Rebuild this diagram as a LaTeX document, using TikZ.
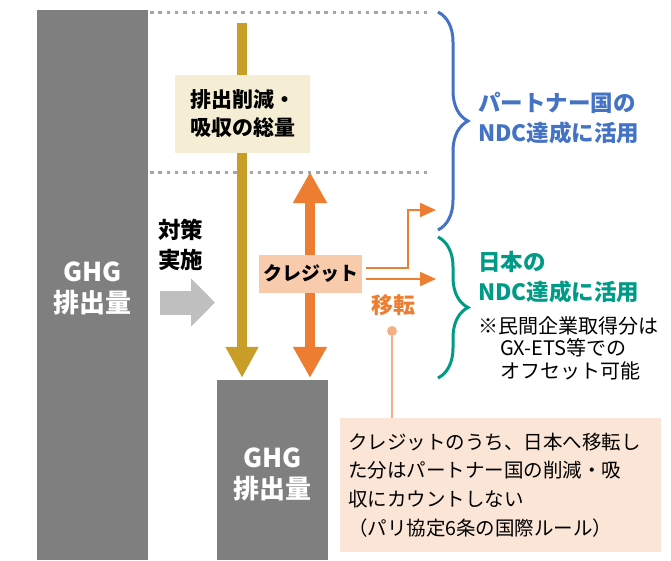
\documentclass[tikz,border=0pt]{standalone}
\usepackage{fontspec}
\setmainfont{Noto Sans CJK JP}
\usepackage{tikz}
\usetikzlibrary{arrows.meta}
\usetikzlibrary{positioning, shapes.arrows, decorations.pathreplacing}
\definecolor{barGray}{RGB}{127,127,127}
\definecolor{guideGray}{RGB}{166,166,166}
\definecolor{implGray}{RGB}{191,191,191}
\definecolor{totalGold}{RGB}{200,158,40}
\definecolor{totalFill}{RGB}{246,238,212}
\definecolor{creditOrange}{RGB}{237,125,49}
\definecolor{creditFill}{RGB}{248,203,173}
\definecolor{noteFill}{RGB}{251,229,214}
\definecolor{pinOrange}{RGB}{244,177,131}
\definecolor{partnerBlue}{RGB}{68,114,196}
\definecolor{japanGreen}{RGB}{0,155,135}
\tikzset{
emission bar/.style = { rectangle, draw = none, fill = barGray, inner sep = 0pt, minimum width = 111pt },
bar text/.style = { text = white, font = \bfseries\fontsize{26}{31}\selectfont, align = center },
guide/.style = { guideGray, line width = 3pt, dash pattern = on 3.5pt off 4.8pt },
total arrow/.style = { totalGold, line width = 10pt, -{Triangle[width = 31pt, length = 31pt]} },
credit arrow/.style = { creditOrange, line width = 10pt, {Triangle[width = 32pt, length = 31pt]}-{Triangle[width = 32pt, length = 31pt]} },
impl arrow/.style = { implGray, line width = 24pt, -{Triangle[width = 47pt, length = 24pt]} },
transfer/.style = { creditOrange, line width = 2pt, -{Triangle[width = 14pt, length = 16pt]} },
labelbox/.style = { rectangle, draw = none, inner sep = 0pt, align = center },
brace line/.style = { line width = 3pt, decorate, decoration = { brace, amplitude = 30pt } },
}
\begin{document}
\begin{tikzpicture}[x = 1pt, y = -1pt]
    \useasboundingbox (0, 0) rectangle (671, 560);
    % emissions before and after
    \node[emission bar, minimum height = 550pt] (leftbar) at (92.5, 285) {};
    \node[emission bar, minimum height = 180pt] (lowbar) at (272.5, 470) {};
    \node[bar text] (lefttext) at (92.5, 288) {GHG\\排出量};
    \node[bar text] (lowtext) at (272.5, 474) {GHG\\排出量};
    \draw[guide] (150, 12) -- (432, 12);
    \draw[guide] (150, 172) -- (432, 172);
    % measures
    \node[labelbox, anchor = west, font = \bfseries\fontsize{22.5}{30}\selectfont, align = left] (measure) at (158, 245) {対策\\実施};
    \coordinate (implStart) at (160, 302.5);
    \coordinate (implEnd) at (215, 302.5);
    \draw[impl arrow] (implStart) -- (implEnd);
    \coordinate (goldTop) at (242, 23);
    \draw[total arrow, shorten > = 2pt] (goldTop) -- (goldTop |- lowbar.north);
    \node[labelbox, fill = totalFill, minimum width = 135pt, minimum height = 78pt, font = \bfseries\fontsize{21}{28}\selectfont] (total) at (242.5, 114) {排出削減・\\吸収の総量};
    \coordinate (creditTop) at (310, 172);
    \draw[credit arrow, shorten > = 2pt] (creditTop) -- (creditTop |- lowbar.north);
    \node[labelbox, fill = creditFill, minimum width = 103pt, minimum height = 38pt, font = \bfseries\fontsize{19}{24}\selectfont] (credit) at (310.5, 274) {クレジット};
    % transfer
    \coordinate (toPartner) at (436, 210);
    \coordinate (toJapan) at (436, 279);
    \draw[transfer] ([shift = {(4, -6)}]credit.east) -- ++(42, 0) |- (toPartner);
    \draw[transfer] ([shift = {(4, 5)}]credit.east) -- (toJapan);
    \node[labelbox, text = creditOrange, font = \bfseries\fontsize{22}{26}\selectfont] (move) at (393, 305) {移転};
    \draw[partnerBlue, brace line] (438, 12) -- (438, 230);
    \draw[japanGreen, brace line] (438, 237) -- (438, 378);
    \node[labelbox, anchor = west, align = left, text = partnerBlue, font = \bfseries\fontsize{22.5}{30}\selectfont] (partner) at (478, 118) {パートナー国の\\NDC達成に活用};
    \node[labelbox, anchor = west, align = left, text = japanGreen, font = \bfseries\fontsize{22.5}{30}\selectfont] (japan) at (478, 277) {日本の\\NDC達成に活用};
    \node[labelbox, anchor = west, align = left, font = \fontsize{20}{22.5}\selectfont] (offset) at (478, 348) {※民間企業取得分は\\\hspace*{1.1em}GX-ETS等での\\\hspace*{1.1em}オフセット可能};
    % note
    \node[circle, fill = pinOrange, inner sep = 0pt, minimum size = 10pt] (pin) at (392, 331) {};
    \node[labelbox, fill = noteFill, minimum width = 321pt, minimum height = 134pt, text width = 305pt, align = left, font = \fontsize{19.5}{28.7}\selectfont] (note) at (500.5, 485) {クレジットのうち、日本へ移転し\\た分はパートナー国の削減・吸\\収にカウントしない\\（パリ協定6条の国際ルール）};
    \draw[pinOrange, line width = 2pt] (pin) -- (pin |- note.north);
\end{tikzpicture}
\end{document}
